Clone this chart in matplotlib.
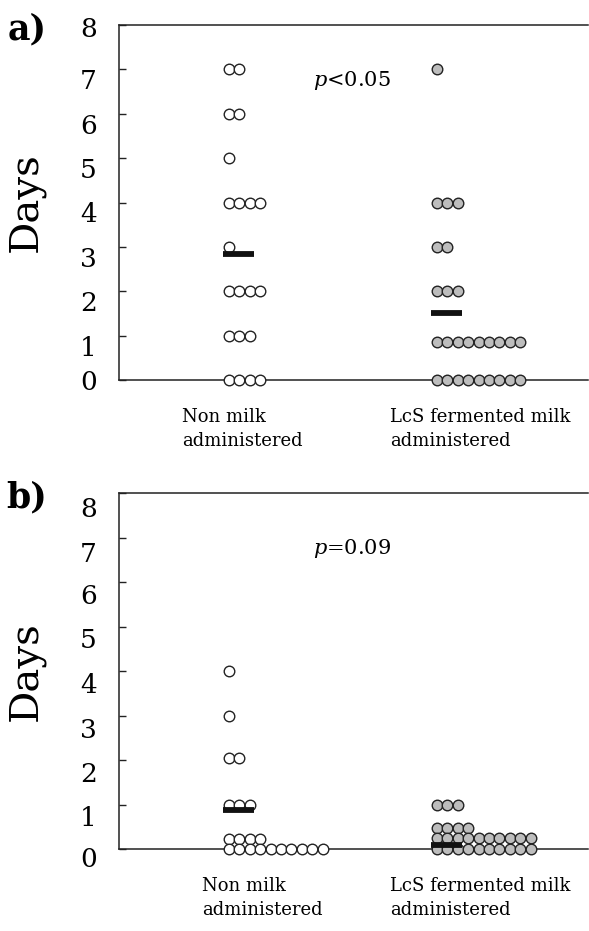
import numpy as np
import matplotlib
matplotlib.use("Agg")
import matplotlib.pyplot as plt
import matplotlib.transforms as mtransforms

plt.rcParams['font.family'] = ['DejaVu Serif']
plt.rcParams['mathtext.fontset'] = 'dejavuserif'

# values: (days, number of subjects) per row of dots
a_non_vals = [7, 6, 5, 4, 3, 2, 1, 0]
a_non_counts = [2, 2, 1, 4, 1, 4, 3, 4]
a_lcs_vals = [7, 4, 3, 2, 0.85, 0]
a_lcs_counts = [1, 3, 2, 3, 9, 9]
a_means = [2.85, 1.5]
a_ptext = r"$p$<0.05"

b_non_vals = [4, 3, 2.05, 1, 0.22, 0]
b_non_counts = [1, 1, 2, 3, 4, 10]
b_lcs_vals = [1, 0.47, 0.25, 0]
b_lcs_counts = [3, 4, 10, 10]
b_means = [0.87, 0.08]
b_ptext = r"$p$=0.09"

groups = ["Non milk\nadministered", "LcS fermented milk\nadministered"]
yticks = [0, 1, 2, 3, 4, 5, 6, 7, 8]

W, H = 589, 931
fig = plt.figure(figsize=(W / 100, H / 100), dpi=100)

PX = 208.0          # pixels per group unit
sp = 10.4 / PX      # dot spacing
fills = ['white', '#bdbdbd']


def fx(px):
    return px / W


def fy(py):
    return 1 - py / H


def panel(top, bottom, non_vals, non_counts, lcs_vals, lcs_counts, means,
          ptext, label, lab_offsets, cat_left):
    ax = fig.add_axes([fx(119), fy(bottom), fx(588 - 119), (bottom - top) / H])
    x0 = (229 - 119) / PX
    ax.set_xlim(-x0, (588 - 119) / PX - x0)
    ax.set_ylim(0, 8)
    ax.spines['right'].set_visible(False)
    for s in ax.spines.values():
        s.set_linewidth(1.1)
        s.set_color('#222222')

    for g, (vals, counts) in enumerate([(non_vals, non_counts), (lcs_vals, lcs_counts)]):
        xs, ys = [], []
        for v, c in zip(vals, counts):
            xs += [g + i * sp for i in range(c)]
            ys += [v] * c
        ax.plot(xs, ys, 'o', ms=7.6, mfc=fills[g], mec='#222222', mew=1.0,
                ls='none', clip_on=False, zorder=3)
        ax.hlines(means[g], g - 0.6 * sp, g + 2.4 * sp, colors='#111111',
                  lw=4.2, capstyle='butt', zorder=4)

    ax.set_xticks([])
    ax.set_yticks(yticks)
    ax.set_yticklabels([str(t) for t in yticks])
    ax.tick_params(axis='y', direction='in', length=5, width=1, pad=16,
                   labelsize=19, color='#222222')
    for lbl, off in zip(ax.get_yticklabels(), lab_offsets):
        lbl.set_transform(lbl.get_transform() +
                          mtransforms.ScaledTranslation(0, -off / 100, fig.dpi_scale_trans))

    fig.text(fx(313), fy(top + 55), ptext, fontsize=15, va='center', ha='left')
    fig.text(fx(26), fy((top + bottom) / 2), "Days", fontsize=29,
             rotation=90, va='center', ha='center')
    fig.text(fx(27), fy(top + 4), label, fontsize=25, fontweight='bold',
             va='center', ha='center')
    for g, name in enumerate(groups):
        fig.text(fx(cat_left[g]), fy(bottom + 28), name, fontsize=13,
                 va='top', ha='left', linespacing=1.45)
    return ax


panel(25, 380, a_non_vals, a_non_counts, a_lcs_vals, a_lcs_counts, a_means,
      a_ptext, "a)", [0, 10, 10, 10, 10, 10, 10, 10, 2], [182, 390])
panel(493, 849, b_non_vals, b_non_counts, b_lcs_vals, b_lcs_counts, b_means,
      b_ptext, "b)", [8, 12, 12, 12, 12, 12, 12, 15, 14], [202, 390])

fig.savefig("out.png", dpi=100)
